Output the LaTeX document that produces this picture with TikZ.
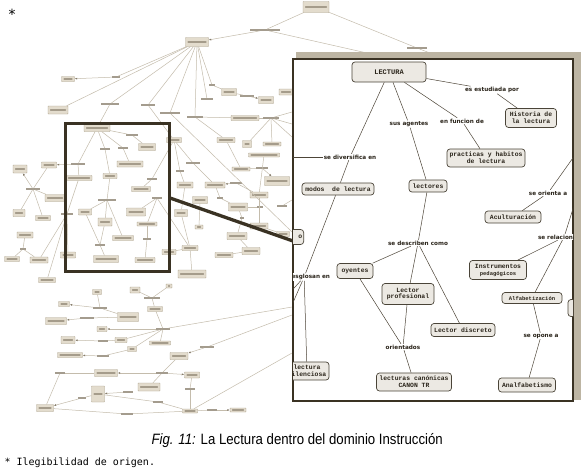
\documentclass[tikz,border=0pt]{standalone}
\usepackage{fontspec}
\setmainfont{Liberation Sans}
\newfontfamily\nodefont{Liberation Mono}
\newfontfamily\linkfont{DejaVu Sans}
\newfontfamily\capfont[FakeStretch=0.88]{Liberation Sans}
\newfontfamily\notefont{DejaVu Sans Mono}
\usetikzlibrary{arrows.meta}

\definecolor{framecol}{HTML}{3A3223}
\definecolor{bandcol}{HTML}{BDB5A3}
\definecolor{nodefill}{HTML}{ECE9E3}
\definecolor{nodeedge}{HTML}{4A4438}
\definecolor{linkcol}{HTML}{4D4538}
\definecolor{inkcol}{HTML}{2A241A}
\definecolor{bgfill}{HTML}{E3DCCD}
\definecolor{bgedge}{HTML}{ADA38E}
\definecolor{bgink}{HTML}{857B69}
\definecolor{bglinecol}{HTML}{C4BCAC}

\tikzset{
  concept/.style={draw=nodeedge, fill=nodefill, rounded corners=3pt, line width=0.7pt,
    text=inkcol, align=center, inner sep=1.5pt,
    font=\nodefont\bfseries\fontsize{6.4}{6.9}\selectfont},
  link/.style={fill=white, text=inkcol, inner sep=0.8pt,
    font=\linkfont\bfseries\fontsize{5.7}{6.2}\selectfont},
  conn/.style={draw=linkcol, line width=0.5pt},
  bgbox/.style={draw=bgedge, fill=bgfill, line width=0.4pt, inner sep=0pt,
    rounded corners=0.5pt,
    path picture={\fill[bgink] ([xshift=2pt,yshift=-0.6pt]path picture bounding box.west)
      rectangle ([xshift=-2pt,yshift=0.6pt]path picture bounding box.east);}},
  bglabel/.style={fill=bgink!75, inner sep=0pt, minimum height=1.5pt},
  bgconn/.style={draw=bglinecol, line width=0.5pt},
  bgarrow/.style={draw=bglinecol, line width=0.5pt, -{Latex[length=2.5pt,width=2pt,color=bgink]}}
}

\begin{document}
\begin{tikzpicture}[x=1pt,y=-1pt]
\useasboundingbox (0,0) rectangle (583,474);
\fill[white] (0,0) rectangle (583,474);

% map behind the zoom
\foreach \n/\x/\y/\w/\h in {b1/316/7/26/11, b2/197/42/23/9, b3/68/79/13/5, b4/58/110/20/8,
    b5/229/92/15/7, b6/266/100/15/7, b7/245/118/28/5, b8/286/92/14/6,
    c2/20/169/14/8, c3/49/165/15/6, c4/55/198/20/7, c5/19/213/12/7, c6/43/218/15/5,
    c7/25/235/16/6, c8/12/259/15/5, c9/39/260/18/6, c10/47/280/17/5,
    s1/97/128/26/7, s2/147/147/17/7, s3/130/164/26/6, s4/79/178/26/5, s5/110/176/14/5,
    s6/85/212/13/6, s7/105/222/14/8, s8/123/238/21/5, s9/106/259/25/7, s10/68/255/15/6,
    s11/141/189/19/5, s12/136/212/19/8, s13/147/224/20/4, s14/145/260/20/5,
    d1/174/140/15/5, d2/226/140/18/5, d3/247/144/9/7, d4/272/144/18/4, d5/264/155/31/4,
    d6/241/169/18/4, d7/277/181/25/9, d8/185/185/16/6, d9/215/185/20/6, d10/259/195/18/6,
    d11/200/200/15/7, d12/181/213/13/7, d13/238/207/19/8, d14/199/227/8/4, d15/237/236/20/7,
    d16/259/226/18/6, d17/251/251/18/7, d18/224/255/18/5, d19/190/248/16/5, d20/169/252/14/5,
    d21/192/274/28/8, d22/283/234/13/5,
    e1/135/290/10/6, e2/169/286/6/4, e3/97/292/9/5, e4/155/309/15/5, e5/64/304/11/5,
    e6/128/317/21/9, e7/56/321/21/7, e8/102/329/10/5, e9/68/340/14/7, e10/121/340/12/5,
    e11/160/343/21/4, e12/132/349/9/5, e13/70/355/25/5, e14/179/356/18/7, e15/106/373/23/7,
    e16/192/375/15/6, e17/149/387/22/8, e18/98/394/13/16, e19/45/408/17/7, e20/190/411/15/4,
    e21/238/410/16/4}
  \node[bgbox, minimum width=\w pt, minimum height=\h pt] (\n) at (\x,\y) {};
\foreach \n/\x/\y/\w in {l1/265/30/30, l2/417/48/20, l3/116/77/8, l4/110/104/18, l5/148/105/14,
    l6/170/113/20, l7/195/117/16, l8/207/99/12, l9/212/85/6, l10/247/96/14, l11/271/118/16,
    l12/33/189/14, l13/23/249/6,
    sl1/132/135/12, sl2/105/149/10, sl3/123/148/10, sdiv/78/164/14, sl4/107/200/18,
    sl5/100/245/10, sdes/67/214/12, sl6/152/179/10, sl7/147/239/8, sl8/157/198/10,
    dl1/262/168/12, dl2/236/183/12, dl3/193/163/14, dl4/180/171/8, dl5/220/198/6,
    dl6/260/207/6, dl7/282/206/10, dl8/242/218/4,
    el1/152/298/16, el2/100/308/14, el3/87/318/14, el4/163/329/14, el5/103/341/10,
    el6/103/356/12, el7/207/347/14, el8/162/373/12, el9/60/373/10, el10/128/392/10,
    el11/190/389/10, el12/82/398/8, el13/158/402/10, el14/212/410/10, el15/127/414/12}
  \node[bglabel, minimum width=\w pt] (\n) at (\x,\y) {};
\coordinate (t1) at (367,53);
\coordinate (t2) at (430,53);
\coordinate (f1) at (292,112);
\coordinate (f2) at (292,124);
\coordinate (f3) at (292,137);
\coordinate (f4) at (292,232);
\coordinate (f5) at (292,200);
\coordinate (f6) at (292,307);
\coordinate (f7) at (292,315);
\coordinate (f8) at (292,353);
\foreach \a/\b in {b1/l1, b1/l2, l2/t2, l1/t1, b2/l4, b2/l5, b2/l6, b2/l7, b2/l8, b2/l9, b2/b4,
    b2/l3, l9/b5, b5/l10, l7/b7, b7/l11, l11/f1, l11/f2, l11/f3, l11/d3, l11/d4, l4/s1, l5/d1,
    l6/f4, l7/d2,
    c3/l12, l12/c4, l12/c5, l12/c6, c7/l13, l13/c8, l13/c9,
    s1/sl1, sl1/s2, s1/sl3, sl3/s3, s1/sl2, sl2/s5, s1/sdiv, sdiv/s4, s4/sdes, sdes/s10,
    sdes/c9, sdes/c10, s5/sl4, sl4/s6, sl4/s7, sl4/s8, s6/sl5, s7/sl5, sl5/s9, sl6/s11,
    d1/sl6, sl8/s12, sl8/s13, s13/sl7, sl7/s14, d19/sl8,
    d1/dl4, dl4/d8, d1/dl3, dl3/d9, d2/d6, d6/dl1, d9/dl5, dl5/d13, d13/dl8, dl8/d15,
    d10/d16, d8/d12, d11/d14, d5/d10, d13/dl6, dl7/f5, d16/d22, d15/d17, d17/d18, d12/d19,
    d19/d20, d19/d21, d10/dl2,
    e1/el1, e2/el1, el1/e4, e3/el2, el2/e6, e6/el3, e4/el4, el4/e10, el4/e11, el4/e12,
    el4/f6, e10/el5, e12/el6, el7/f7, e14/el8, el9/e15, el9/e19, e16/el11, el11/e20,
    e18/el12, e18/el13, el13/e20, e19/el15, el15/e20, e20/el14, e20/f8, e17/el8}
  \draw[bgconn] (\a) -- (\b);
\foreach \a/\b in {l1/b2, l3/b3, l10/b6, l12/c2, sdiv/c3, dl1/d7, dl2/d9,
    el2/e5, el3/e7, el4/e8, el5/e9, el6/e13, el7/e14, el8/e15, el8/e16, el10/e18, el12/e19,
    el14/e21}
  \draw[bgarrow] (\a) -- (\b);

% zoomed frame and its link
\draw[framecol, line width=3pt] (65,123.5) rectangle (169.5,271.5);
\coordinate (zoomA) at (170,198);
\coordinate (zoomB) at (293,241);
\draw[framecol, line width=3.3pt] (zoomA) -- (zoomB);
\fill[bandcol] (296,52) rectangle (581,400);
\filldraw[fill=white, draw=framecol, line width=2.5pt] (293,59) rectangle (573,401);

\begin{scope}
\clip (293,59) rectangle (573,401);
\node[concept, minimum width=74pt, minimum height=20pt,
  font=\nodefont\bfseries\fontsize{7}{8}\selectfont] (lectura) at (389,72) {LECTURA};
\node[concept, minimum width=51pt, minimum height=19pt] (historia) at (531,118) {Historia de\\la lectura};
\node[concept, minimum width=78pt, minimum height=18pt] (practicas) at (486,158) {practicas y habitos\\de lectura};
\node[concept, minimum width=72pt, minimum height=12pt] (modos) at (338,189) {modos\ \ de lectura};
\node[concept, minimum width=38pt, minimum height=12pt] (lectores) at (428,186) {lectores};
\node[concept, minimum width=56pt, minimum height=12pt] (acult) at (513,217) {Aculturación};
\node[concept, minimum width=36pt, minimum height=15pt] (oyentes) at (355,271) {oyentes};
\node[concept, minimum width=57pt, minimum height=19pt] (instrum) at (498,270)
  {Instrumentos\\{\fontsize{5.5}{6}\selectfont pedagógicos}};
\node[concept, minimum width=52pt, minimum height=21pt] (lprof) at (408,294) {Lector\\profesional};
\node[concept, minimum width=60pt, minimum height=11pt,
  font=\nodefont\bfseries\fontsize{5.5}{6}\selectfont] (alfab) at (532,298) {Alfabetización};
\node[concept, minimum width=64pt, minimum height=13pt] (ldisc) at (463,330) {Lector discreto};
\node[concept, minimum width=57pt, minimum height=14pt] (analf) at (527,385) {Analfabetismo};
\node[concept, minimum width=75pt, minimum height=18pt] (canon) at (414,382) {lecturas canónicas\\CANON TR};
\node[concept, minimum width=44pt, minimum height=18pt] (silenc) at (307,371) {lectura\\silenciosa};
\node[concept, text width=14pt, align=right, minimum height=15pt, anchor=east] (cutl) at (304,237) {o};
\node[concept, minimum width=44pt, minimum height=17pt] (cutr) at (590,308) {};

\node[link] (estud) at (492,90) {es estudiada por};
\node[link] (agentes) at (409,124) {sus agentes};
\node[link] (funcion) at (462,121) {en funcion de};
\node[link] (divers) at (350,157) {se diversifica en};
\node[link] (orienta) at (548,193) {se orienta a};
\node[link] (describen) at (418,243) {se describen como};
\node[link, anchor=west] (relac) at (537,237) {se relaciona con};
\node[link, anchor=east] (desglosan) at (331,277) {se desglosan en};
\node[link] (orientados) at (403,347) {orientados};
\node[link] (opone) at (541,336) {se opone a};

\coordinate (inL1) at (285,157);
\coordinate (inL2) at (285,298);
\coordinate (inL3) at (285,321);
\coordinate (inR1) at (580,148);
\coordinate (inR2) at (577,196);

\draw[conn] (lectura) -- (divers) -- (modos);
\draw[conn] (inL1) -- (divers);
\draw[conn] (lectura) -- (agentes) -- (lectores);
\draw[conn] (lectura) -- (funcion) -- (practicas);
\draw[conn] (lectura) -- (estud) -- (historia);
\draw[conn] (modos) -- (desglosan) -- (silenc);
\draw[conn] (desglosan) -- (inL2);
\draw[conn] (desglosan) -- (inL3);
\draw[conn] (lectores) -- (describen);
\draw[conn] (describen) -- (oyentes);
\draw[conn] (describen) -- (lprof);
\draw[conn] (describen) -- (ldisc);
\draw[conn] (oyentes) -- (orientados);
\draw[conn] (lprof) -- (orientados) -- (canon);
\draw[conn] (inR1) -- (orienta) -- (acult);
\draw[conn] (inR2) -- (relac);
\draw[conn] (relac) -- (instrum);
\draw[conn] (relac) -- (alfab);
\draw[conn] (alfab) -- (opone) -- (analf);
\end{scope}

% caption and notes
\node[font=\notefont\fontsize{14}{14}\selectfont] (star) at (12,14) {*};
\node[anchor=west, font=\capfont\fontsize{15}{15}\selectfont] (caption) at (148,441)
  {\textit{Fig. 11:} La Lectura dentro del dominio Instrucción};
\node[anchor=west, font=\notefont\fontsize{10}{10}\selectfont] (note) at (1,463) {* Ilegibilidad de origen.};
\end{tikzpicture}
\end{document}
